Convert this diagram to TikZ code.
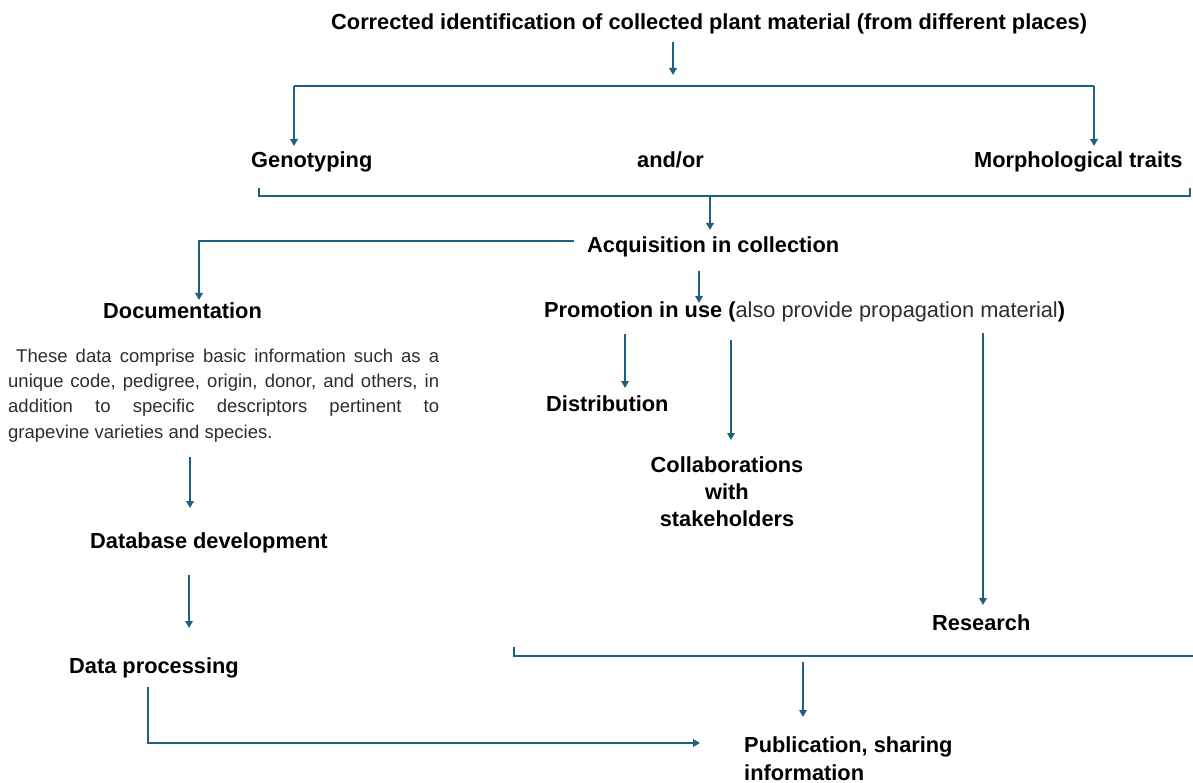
\documentclass[tikz,border=0pt]{standalone}
\usepackage{fontspec}
\setmainfont{Liberation Sans}
\usetikzlibrary{arrows.meta}
\definecolor{ln}{RGB}{31,96,128}
\definecolor{para}{RGB}{45,45,45}
\begin{document}
\begin{tikzpicture}[x=1pt,y=-1pt,
  lbl/.style={font=\bfseries\fontsize{21.8}{27}\selectfont, inner sep=0pt, anchor=base west, text=black},
  arr/.style={draw=ln, line width=2pt, -{Triangle[width=7.5pt,length=7pt]}},
  plain/.style={draw=ln, line width=2pt}]
\useasboundingbox (0,0) rectangle (1193,783);

% nodes
\node[lbl] (title) at (331,30) {Corrected identification of collected plant material (from different places)};
\node[lbl] (geno) at (251,168) {Genotyping};
\node[lbl] (andor) at (637,168) {and/or};
\node[lbl] (morph) at (974,168) {Morphological traits};
\node[lbl] (acq) at (587,253) {Acquisition in collection};
\node[lbl] (doc) at (103,319) {Documentation};
\node[lbl] (prom) at (544,318) {Promotion in use (\mdseries\color{para}also provide propagation material\color{black}\bfseries)};
\node[anchor=base west, inner sep=0pt, align=left, text=para, font=\fontsize{18.5}{25.3}\selectfont] (par) at (8,438)
  {\makebox[431pt][s]{\hspace{8pt}These data comprise basic information such as a}\\
   \makebox[431pt][s]{unique code, pedigree, origin, donor, and others, in}\\
   \makebox[431pt][s]{addition to specific descriptors pertinent to}\\
   grapevine varieties and species.};
\node[lbl] (dist) at (546,411) {Distribution};
\node[lbl, anchor=base, align=center] (coll) at (727,526) {Collaborations\\with\\stakeholders};
\node[lbl] (db) at (90,548) {Database development};
\node[lbl] (res) at (932,630) {Research};
\node[lbl] (dp) at (69,673) {Data processing};
\node[lbl, align=left, font=\bfseries\fontsize{21.8}{28}\selectfont] (pub) at (744,780) {Publication, sharing\\information};

% coordinates
\coordinate (t1) at (673,42);   \coordinate (t2) at (673,75);
\coordinate (bl) at (294,86);   \coordinate (br) at (1094,86);
\coordinate (gA) at (294,146);  \coordinate (mA) at (1094,146);
\coordinate (c1) at (259,188);  \coordinate (c2) at (259,196);
\coordinate (c3) at (1190,196); \coordinate (c4) at (1190,188);
\coordinate (a1) at (710,196);  \coordinate (a2) at (710,230);
\coordinate (d0) at (574,241);  \coordinate (d1) at (199,241); \coordinate (d2) at (199,300);
\coordinate (p1) at (699,271);  \coordinate (p2) at (699,303);
\coordinate (s1) at (625,334);  \coordinate (s2) at (625,388);
\coordinate (k1) at (731,340);  \coordinate (k2) at (731,440);
\coordinate (r1) at (983,333);  \coordinate (r2) at (983,605);
\coordinate (q1) at (190,457);  \coordinate (q2) at (190,508);
\coordinate (e1) at (189,575);  \coordinate (e2) at (189,628);
\coordinate (f1) at (148,687);  \coordinate (f2) at (148,743); \coordinate (f3) at (700,743);
\coordinate (h1) at (514,647);  \coordinate (h2) at (514,656); \coordinate (h3) at (1193,656);
\coordinate (u1) at (803,662);  \coordinate (u2) at (803,717);

% connectors
\draw[arr] (t1) -- (t2);
\draw[plain] (bl) -- (br);
\draw[arr] (bl) -- (gA);
\draw[arr] (br) -- (mA);
\draw[plain] (c1) -- (c2) -- (c3) -- (c4);
\draw[arr] (a1) -- (a2);
\draw[arr] (d0) -- (d1) -- (d2);
\draw[arr] (p1) -- (p2);
\draw[arr] (s1) -- (s2);
\draw[arr] (k1) -- (k2);
\draw[arr] (r1) -- (r2);
\draw[arr] (q1) -- (q2);
\draw[arr] (e1) -- (e2);
\draw[arr] (f1) -- (f2) -- (f3);
\draw[plain] (h1) -- (h2) -- (h3);
\draw[arr] (u1) -- (u2);
\end{tikzpicture}
\end{document}
